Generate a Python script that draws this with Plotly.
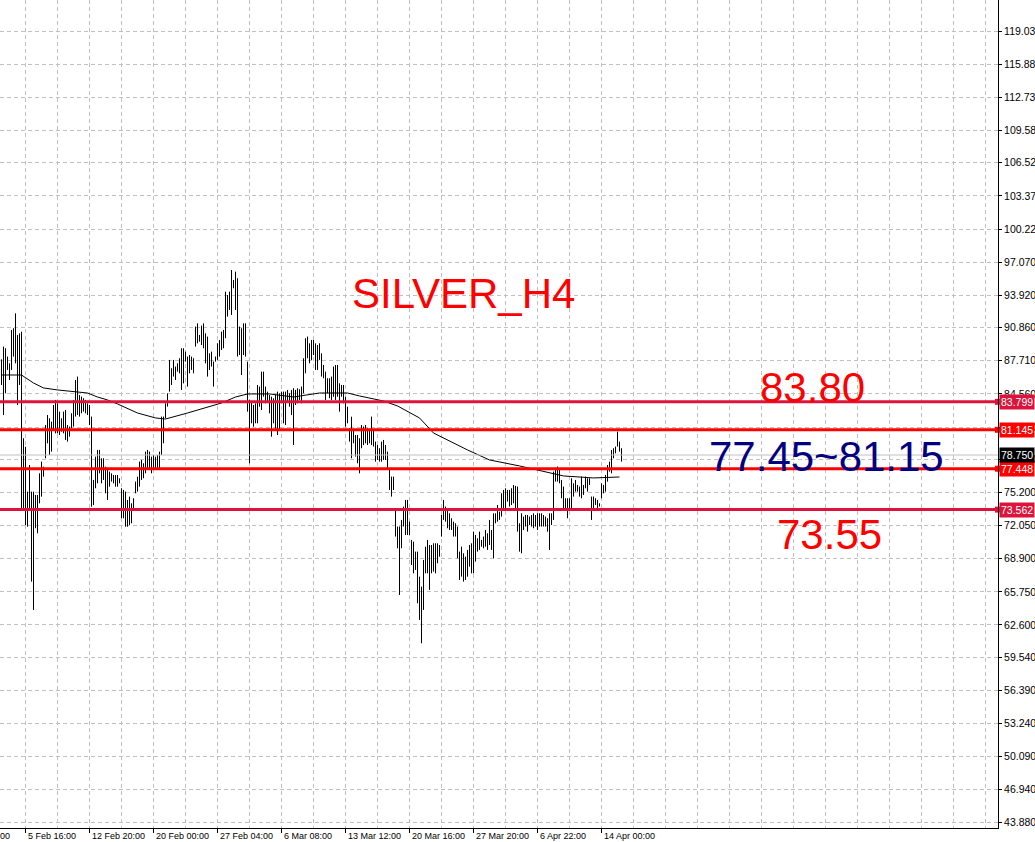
import plotly.graph_objects as go

# ---------------- data ----------------
highs = [
    87.84, 89.05, 88.89, 88.10, 87.46, 90.63, 90.79, 92.21, 90.15, 90.31,
    90.47, 80.34, 79.54, 75.27, 77.80, 75.27, 75.27, 74.95, 74.95, 77.01,
    78.12, 77.64, 81.60, 82.55, 82.24, 81.92, 83.50, 83.98, 83.66, 82.87,
    82.24, 82.87, 83.03, 81.60, 81.45, 82.71, 83.98, 85.88, 86.20, 84.45,
    84.30, 84.14, 83.98, 83.66, 83.50, 82.40, 76.38, 78.59, 79.23, 79.23,
    78.44, 78.44, 77.64, 77.49, 77.17, 77.01, 76.85, 76.85, 76.85, 76.54,
    75.59, 75.43, 75.27, 74.48, 74.79, 74.16, 74.64, 76.22, 76.69, 78.12,
    78.28, 77.96, 79.07, 79.23, 79.07, 78.59, 78.75, 78.59, 78.75, 79.07,
    82.40, 82.40, 83.66, 84.61, 87.78, 86.99, 87.78, 87.15, 87.46, 87.94,
    88.89, 88.89, 88.57, 88.10, 88.25, 88.10, 87.94, 90.95, 91.26, 90.15,
    91.04, 91.26, 90.31, 90.00, 88.41, 88.57, 87.62, 88.10, 89.36, 89.68,
    90.47, 90.63, 94.27, 93.95, 94.27, 96.33, 95.38, 96.17, 95.54, 90.95,
    90.79, 91.26, 91.26, 87.62, 83.98, 83.82, 83.50, 83.66, 85.40, 85.25,
    86.67, 86.67, 85.25, 84.77, 84.45, 84.29, 84.14, 84.45, 84.77, 84.61,
    84.77, 84.77, 84.77, 84.93, 84.61, 84.93, 85.09, 84.93, 85.09, 85.00,
    85.25, 87.94, 89.84, 90.00, 89.36, 89.68, 89.68, 89.36, 89.20, 89.36,
    88.41, 87.30, 86.67, 86.04, 86.04, 86.20, 87.15, 87.30, 87.30, 85.56,
    85.40, 85.40, 84.29, 83.34, 81.29, 82.39, 81.13, 80.65, 80.65,
    80.34, 81.60, 81.45, 81.60, 81.29, 81.13, 82.40, 81.13, 80.02, 79.70,
    79.39, 80.02, 80.18, 79.70, 79.07, 77.49, 76.70, 76.70, 73.69, 71.95,
    71.95, 72.58, 73.85, 74.48, 74.48, 72.42, 70.68, 70.52, 69.57, 69.57,
    67.19, 66.24, 68.78, 70.04, 70.68, 70.20, 70.20, 70.36, 70.36, 70.36,
    70.20, 73.05, 74.48, 73.85, 73.69, 73.21, 72.74, 72.42, 72.26, 71.95,
    69.57, 70.04, 69.41, 69.09, 69.73, 70.20, 70.36, 71.47, 71.15, 70.84,
    71.47, 70.68, 71.00, 71.63, 71.31, 72.58, 71.63, 73.21, 73.21, 74.00,
    73.37, 75.11, 75.43, 75.59, 75.43, 75.43, 75.59, 75.90, 75.81, 75.75,
    72.26,
    73.21, 72.90, 73.05, 73.05, 72.90, 73.05, 73.21, 73.05, 73.21, 73.21,
    73.21, 73.05, 72.90, 72.74, 73.21, 73.21, 77.17, 77.33, 77.65, 77.49,
    76.38, 75.75, 74.64, 74.64, 74.64, 76.54, 76.06, 76.38, 75.90, 75.75,
    76.70, 75.90, 76.70, 76.54, 76.54, 74.80, 74.80, 74.64, 74.48, 74.16,
    76.06, 75.90, 76.85, 77.80, 78.12, 79.23, 79.39, 79.55, 80.97, 80.02,
    79.39,
]
lows = [
    85.40, 82.55, 84.61, 86.83, 85.88, 86.83, 88.10, 87.46, 83.50, 85.40,
    73.53, 73.53, 72.10, 71.94, 73.53, 66.72, 64.03, 71.79, 71.31, 74.16,
    74.79, 76.69, 78.44, 79.86, 78.75, 79.07, 81.13, 80.81, 80.81, 80.65,
    80.97, 80.81, 80.18, 80.02, 80.49, 81.29, 81.45, 82.40, 82.55, 82.40,
    82.71, 82.87, 82.71, 82.55, 81.60, 73.84, 74.00, 75.59, 76.06, 77.01,
    76.06, 76.38, 75.11, 74.48, 75.74, 76.22, 76.06, 75.74, 75.74, 76.06,
    72.74, 72.74, 71.94, 71.94, 72.10, 72.26, 73.69, 75.11, 75.27, 75.74,
    76.38, 76.54, 77.01, 77.33, 77.33, 77.01, 77.33, 77.49, 77.33, 77.49,
    78.75, 79.86, 82.24, 83.35, 84.77, 85.40, 86.20, 85.88, 86.67, 86.51,
    84.93, 85.56, 87.62, 85.25, 86.51, 86.83, 86.51, 89.05, 89.36, 89.52,
    89.20, 88.89, 87.46, 86.20, 86.83, 87.15, 85.25, 87.62, 87.78, 88.10,
    88.73, 88.89, 89.84, 91.90, 92.53, 92.05, 94.59, 92.53, 88.10, 88.25,
    86.35, 88.25, 88.10, 82.87, 77.96, 81.76, 81.44, 81.76, 81.76, 83.34,
    83.03, 84.29, 83.66, 83.82, 82.71, 80.49, 81.76, 81.13, 80.65, 81.13,
    83.66, 81.76, 81.60, 83.82, 83.34, 82.55, 79.70, 83.50, 83.66, 83.98,
    83.66, 84.61, 86.51, 87.94, 87.46, 87.78, 88.25, 86.83, 86.83, 87.78,
    86.20, 86.04, 83.98, 84.61, 84.14, 83.98, 84.29, 83.98, 84.29, 82.87,
    84.29, 83.66, 81.44, 81.76, 80.02, 78.44, 79.86, 78.60, 77.96,
    77.01, 79.39, 79.70, 79.86, 79.70, 79.86, 79.70, 79.55, 78.12, 78.28,
    78.12, 78.12, 78.28, 78.28, 77.49, 75.43, 74.80, 75.43, 71.00, 69.89,
    65.45, 69.89, 71.95, 71.15, 71.15, 71.15, 68.30, 67.51, 67.83, 64.66,
    63.08, 60.86, 64.03, 67.51, 67.51, 65.93, 67.51, 67.67, 67.51, 68.46,
    69.09, 71.00, 72.58, 72.42, 71.79, 71.63, 71.63, 71.00, 71.00, 68.94,
    66.88, 67.19, 66.72, 66.88, 67.19, 68.14, 67.51, 67.51, 68.62, 69.57,
    69.73, 70.04, 69.89, 70.04, 69.73, 70.20, 69.73, 68.94, 72.26, 72.42,
    72.58, 72.90, 73.69, 73.53, 74.32, 73.85, 74.00, 74.16, 73.69, 71.47,
    69.57,
    69.41, 71.63, 71.95, 71.47, 72.10, 71.95, 71.79, 71.95, 71.63, 71.95,
    71.95, 71.95, 71.95, 71.47, 69.73, 72.10, 72.58, 76.22, 76.22, 76.06,
    74.64, 73.53, 73.69, 72.74, 73.69, 73.69, 74.80, 75.27, 75.27, 74.80,
    74.64, 74.95, 75.59, 75.27, 75.90, 72.58, 73.69, 74.00, 73.69, 73.85,
    74.64, 75.11, 75.27, 76.22, 77.17, 77.01, 78.44, 78.91, 79.55, 79.07,
    78.12,
]

ma_idx = [0, 10, 16, 21, 28, 33, 43, 48, 53, 58, 68, 77, 82, 93, 102, 110, 117,
          123, 134, 146, 159, 173, 179, 191, 198, 209, 216, 233, 244, 259, 281,
          296, 309]
ma_val = [86.35, 86.35, 85.59, 85.12, 84.93, 84.83, 84.64, 84.26, 83.98, 83.60,
          82.74, 82.27, 82.17, 82.74, 83.22, 83.69, 84.26, 84.55, 84.55, 84.26,
          84.64, 84.64, 84.36, 83.88, 83.41, 82.27, 80.84, 79.23, 78.28, 77.71,
          76.76, 76.57, 76.66]

level_prices = [83.799, 81.145, 77.448, 73.562]
level_colors = ["#DC143C", "#FF0000", "#FF0000", "#DC143C"]
last_price = 78.750

ytick_vals = [122.18, 119.03, 115.88, 112.73, 109.58, 106.52, 103.37, 100.22,
              97.07, 93.92, 90.86, 87.71, 84.56, 81.41, 78.35, 75.20, 72.05,
              68.90, 65.75, 62.60, 59.54, 56.39, 53.24, 50.09, 46.94, 43.88]

xlabel_idx = [12, 44, 76, 108, 140, 172, 204, 236, 268, 300]
xlabel_text = ["5 Feb 16:00", "12 Feb 20:00", "20 Feb 00:00", "27 Feb 04:00",
               "6 Mar 08:00", "13 Mar 12:00", "20 Mar 16:00", "27 Mar 20:00",
               "6 Apr 22:00", "14 Apr 00:00"]
first_label = "29 Jan 12:00"
grid_idx = list(range(12, 498, 16))

notes = [  # (bar index, price, text, colour)
    (231, 94.14, "SILVER_H4", "#FF0000"),
    (405.5, 85.21, "83.80", "#FF0000"),
    (412.5, 78.65, "77.45~81.15", "#000080"),
    (414, 71.15, "73.55", "#FF0000"),
]

# ---------------- figure ----------------
XMIN, XMAX = -0.75, 498.25
YMIN, YMAX = 43.31, 121.98
FONT = "Liberation Sans, Arial, sans-serif"

fig = go.Figure()

bx, by = [], []
for i, (h, l) in enumerate(zip(highs, lows)):
    bx += [i, i, None]
    by += [l, h, None]
fig.add_trace(go.Scatter(x=bx, y=by, mode="lines",
                         line=dict(color="black", width=1), hoverinfo="skip",
                         showlegend=False))

fig.add_trace(go.Scatter(x=ma_idx, y=ma_val, mode="lines",
                         line=dict(color="black", width=1), showlegend=False))

shapes = []
shapes.append(dict(type="line", xref="paper", x0=0, x1=1, yref="y",
                   y0=last_price, y1=last_price,
                   line=dict(color="#C0C0C0", width=1)))
for p, c in zip(level_prices, level_colors):
    shapes.append(dict(type="line", xref="paper", x0=0, x1=1, yref="y",
                       y0=p, y1=p, line=dict(color=c, width=3)))

annotations = []
for xi, t in zip(xlabel_idx, xlabel_text):
    annotations.append(dict(x=xi, y=0, xref="x", yref="paper", text=t,
                            showarrow=False, xanchor="left", yanchor="top",
                            xshift=0, yshift=-1,
                            font=dict(family=FONT, size=9, color="black")))
annotations.append(dict(x=XMIN, y=0, xref="x", yref="paper", text=first_label,
                        showarrow=False, xanchor="right", yanchor="top",
                        xshift=12, yshift=-1,
                        font=dict(family=FONT, size=9, color="black")))

for p, c in zip(level_prices, level_colors):
    annotations.append(dict(x=1, y=p, xref="paper", yref="y",
                            text=f"{p:.3f}", showarrow=False,
                            xanchor="left", yanchor="middle", xshift=1,
                            bgcolor=c, borderpad=1,
                            font=dict(family=FONT, size=10.5, color="white")))
annotations.append(dict(x=1, y=last_price, xref="paper", yref="y",
                        text=f"{last_price:.3f}", showarrow=False,
                        xanchor="left", yanchor="middle", xshift=1,
                        bgcolor="black", borderpad=1,
                        font=dict(family=FONT, size=10.5, color="white")))

for xi, yp, t, c in notes:
    annotations.append(dict(x=xi, y=yp, xref="x", yref="y", text=t,
                            showarrow=False, xanchor="center",
                            yanchor="middle",
                            font=dict(family=FONT, size=42, color=c)))

fig.add_trace(go.Scatter(x=[XMAX] * len(level_prices), y=level_prices,
                         mode="markers", cliponaxis=False,
                         marker=dict(symbol="square", size=6,
                                     color=level_colors),
                         hoverinfo="skip", showlegend=False))

fig.update_layout(
    width=1035, height=842,
    margin=dict(l=0, r=37, t=0, b=14, autoexpand=False),
    paper_bgcolor="white", plot_bgcolor="white",
    showlegend=False,
    shapes=shapes, annotations=annotations,
    xaxis=dict(range=[XMIN, XMAX], tickvals=xlabel_idx, ticktext=[""] * len(xlabel_idx),
               ticks="outside", ticklen=4, tickcolor="black",
               showgrid=True, gridcolor="#C0C0C0", griddash="4px,3px", gridwidth=1,
               minor=dict(tickvals=[g for g in grid_idx if g not in xlabel_idx],
                          showgrid=True, gridcolor="#C0C0C0",
                          griddash="4px,3px", ticks=""),
               showline=True, linecolor="black", linewidth=1,
               zeroline=False, fixedrange=True, automargin=False),
    yaxis=dict(range=[YMIN, YMAX], side="right", tickvals=ytick_vals,
               ticktext=[f"{v:.3f}" for v in ytick_vals],
               ticks="outside", ticklen=3, tickcolor="black",
               tickfont=dict(family=FONT, size=10.5, color="black"),
               showgrid=True, gridcolor="#C0C0C0", griddash="4px,3px",
               showline=True, linecolor="black", linewidth=1,
               zeroline=False, fixedrange=True, automargin=False),
)

fig.write_html("out.html",
               config={"displayModeBar": False},
               post_script="document.body.style.margin='0px';"
                           "document.body.style.overflow='hidden';")
